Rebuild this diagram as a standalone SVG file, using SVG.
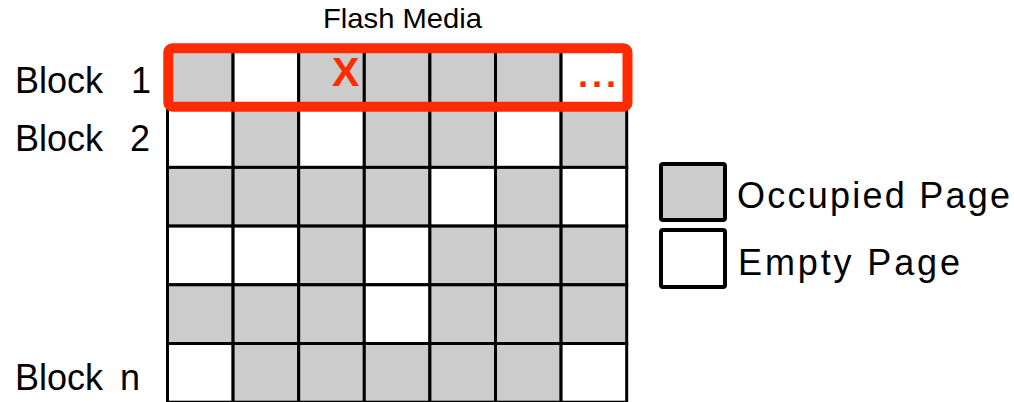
<svg xmlns="http://www.w3.org/2000/svg" width="1014" height="402" viewBox="0 0 1014 402">
<style>
.g{fill:#cccccc;stroke:#000;stroke-width:3}
.w{fill:#ffffff;stroke:#000;stroke-width:3}
.lbl{font-family:"Liberation Sans",Arial,sans-serif;font-size:36px;fill:#000}
.red{font-family:"Liberation Sans",Arial,sans-serif;font-weight:bold;fill:#ff2a00}
</style>
<rect width="1014" height="402" fill="#fff"/>
<text class="lbl" x="323" y="28.3" style="font-size:28px" textLength="159" lengthAdjust="spacingAndGlyphs">Flash Media</text>
<g id="grid">
<!-- row 1 -->
<rect class="g" x="167.5" y="50" width="65.6" height="58.7"/>
<rect class="w" x="233.1" y="50" width="65.6" height="58.7"/>
<rect class="g" x="298.7" y="50" width="65.6" height="58.7"/>
<rect class="g" x="364.3" y="50" width="65.6" height="58.7"/>
<rect class="g" x="429.9" y="50" width="65.6" height="58.7"/>
<rect class="g" x="495.5" y="50" width="65.6" height="58.7"/>
<rect class="w" x="561.1" y="50" width="65.6" height="58.7"/>
<!-- row 2 -->
<rect class="w" x="167.5" y="108.7" width="65.6" height="58.7"/>
<rect class="g" x="233.1" y="108.7" width="65.6" height="58.7"/>
<rect class="w" x="298.7" y="108.7" width="65.6" height="58.7"/>
<rect class="g" x="364.3" y="108.7" width="65.6" height="58.7"/>
<rect class="g" x="429.9" y="108.7" width="65.6" height="58.7"/>
<rect class="w" x="495.5" y="108.7" width="65.6" height="58.7"/>
<rect class="g" x="561.1" y="108.7" width="65.6" height="58.7"/>
<!-- row 3 -->
<rect class="g" x="167.5" y="167.4" width="65.6" height="58.7"/>
<rect class="g" x="233.1" y="167.4" width="65.6" height="58.7"/>
<rect class="g" x="298.7" y="167.4" width="65.6" height="58.7"/>
<rect class="g" x="364.3" y="167.4" width="65.6" height="58.7"/>
<rect class="w" x="429.9" y="167.4" width="65.6" height="58.7"/>
<rect class="g" x="495.5" y="167.4" width="65.6" height="58.7"/>
<rect class="w" x="561.1" y="167.4" width="65.6" height="58.7"/>
<!-- row 4 -->
<rect class="w" x="167.5" y="226.1" width="65.6" height="58.7"/>
<rect class="w" x="233.1" y="226.1" width="65.6" height="58.7"/>
<rect class="g" x="298.7" y="226.1" width="65.6" height="58.7"/>
<rect class="w" x="364.3" y="226.1" width="65.6" height="58.7"/>
<rect class="g" x="429.9" y="226.1" width="65.6" height="58.7"/>
<rect class="g" x="495.5" y="226.1" width="65.6" height="58.7"/>
<rect class="g" x="561.1" y="226.1" width="65.6" height="58.7"/>
<!-- row 5 -->
<rect class="g" x="167.5" y="284.8" width="65.6" height="58.7"/>
<rect class="g" x="233.1" y="284.8" width="65.6" height="58.7"/>
<rect class="g" x="298.7" y="284.8" width="65.6" height="58.7"/>
<rect class="w" x="364.3" y="284.8" width="65.6" height="58.7"/>
<rect class="g" x="429.9" y="284.8" width="65.6" height="58.7"/>
<rect class="g" x="495.5" y="284.8" width="65.6" height="58.7"/>
<rect class="g" x="561.1" y="284.8" width="65.6" height="58.7"/>
<!-- row 6 -->
<rect class="w" x="167.5" y="343.5" width="65.6" height="58.7"/>
<rect class="g" x="233.1" y="343.5" width="65.6" height="58.7"/>
<rect class="g" x="298.7" y="343.5" width="65.6" height="58.7"/>
<rect class="g" x="364.3" y="343.5" width="65.6" height="58.7"/>
<rect class="g" x="429.9" y="343.5" width="65.6" height="58.7"/>
<rect class="g" x="495.5" y="343.5" width="65.6" height="58.7"/>
<rect class="w" x="561.1" y="343.5" width="65.6" height="58.7"/>
</g>
<g id="highlight">
<rect x="168.3" y="48.3" width="459.2" height="58.4" rx="4" fill="none" stroke="#ff2a00" stroke-width="10"/>
<text class="red" x="332" y="86" style="font-size:41px">X</text>
<text class="red" x="578" y="87" style="font-size:36px;letter-spacing:4px">...</text>
</g>
<g id="labels">
<text class="lbl" x="15" y="93">Block <tspan x="131">1</tspan></text>
<text class="lbl" x="15" y="151">Block <tspan x="130">2</tspan></text>
<text class="lbl" x="15" y="390">Block <tspan x="120">n</tspan></text>
</g>
<g id="legend">
<rect x="661" y="164" width="64" height="56" rx="2" fill="#cccccc" stroke="#000" stroke-width="4"/>
<rect x="661" y="230" width="64" height="57" rx="2" fill="#ffffff" stroke="#000" stroke-width="4"/>
<text class="lbl" x="737" y="208" textLength="273" lengthAdjust="spacing">Occupied Page</text>
<text class="lbl" x="738" y="275" textLength="222" lengthAdjust="spacing">Empty Page</text>
</g>
</svg>
